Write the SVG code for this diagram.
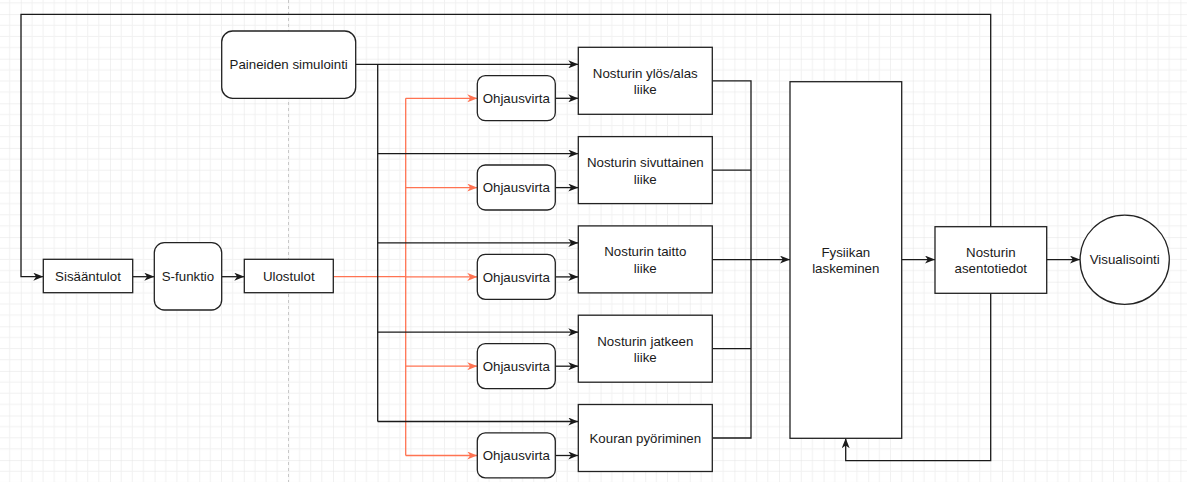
<svg xmlns="http://www.w3.org/2000/svg" width="1187" height="482" viewBox="0 0 1187 482">
  <defs>
    <pattern id="grid" patternUnits="userSpaceOnUse" x="20.8" y="14.1" width="44.6" height="44.6">
      <path d="M11.15 0V44.6M22.3 0V44.6M33.45 0V44.6M0 11.15H44.6M0 22.3H44.6M0 33.45H44.6" stroke="#f1f1f1" stroke-width="1" fill="none"/>
      <path d="M0 0V44.6M0 0H44.6" stroke="#e3e3e3" stroke-width="1" fill="none"/>
    </pattern>
    <marker id="arr" viewBox="0 0 10 8" refX="10" refY="4" markerWidth="10" markerHeight="8" markerUnits="userSpaceOnUse" orient="auto">
      <path d="M0 0L10 4L0 8L2.8 4Z" fill="#1a1a1a"/>
    </marker>
    <marker id="arrO" viewBox="0 0 10 8" refX="10" refY="4" markerWidth="10" markerHeight="8" markerUnits="userSpaceOnUse" orient="auto">
      <path d="M0 0L10 4L0 8L2.8 4Z" fill="#ff7352"/>
    </marker>
  </defs>
  <style>
    .box { fill: #ffffff; stroke: #222222; stroke-width: 1.3; }
    .t { font-family: "Liberation Sans", Arial, sans-serif; font-size: 13.3px; fill: #1a1a1a; text-anchor: middle; }
    .ln { fill: none; stroke: #1a1a1a; stroke-width: 1.3; }
    .la { fill: none; stroke: #1a1a1a; stroke-width: 1.3; marker-end: url(#arr); }
    .lo { fill: none; stroke: #ff7352; stroke-width: 1.3; }
    .loa { fill: none; stroke: #ff7352; stroke-width: 1.3; marker-end: url(#arrO); }
  </style>

  <!-- canvas grid and page break -->
  <rect x="0" y="0" width="1187" height="482" fill="#ffffff"/>
  <rect x="0" y="0" width="1187" height="482" fill="url(#grid)"/>
  <line x1="288.5" y1="0" x2="288.5" y2="482" stroke="#c8c8c8" stroke-width="1" stroke-dasharray="3 3"/>

  <!-- connectors -->
  <g id="connectors">
    <!-- feedback from position data back to inputs -->
    <path class="la" d="M990.7 226.7V14.3H21V276.7H43.3"/>
    <path class="la" d="M132.7 276.7H154.3"/>
    <path class="la" d="M221.7 276.7H244.3"/>

    <!-- control signal distribution -->
    <path class="lo" d="M333.3 276.7H405.7"/>
    <path class="lo" d="M405.7 98.3V455.5"/>
    <path class="loa" d="M405.7 98.3H477.3"/>
    <path class="loa" d="M405.7 187.6H477.3"/>
    <path class="loa" d="M405.7 276.9H477.3"/>
    <path class="loa" d="M405.7 366.2H477.3"/>
    <path class="loa" d="M405.7 455.5H477.3"/>

    <!-- pressure simulation distribution -->
    <path class="la" d="M355.7 64.3H578.3"/>
    <path class="ln" d="M377.7 64.3V421.5"/>
    <path class="la" d="M377.7 153.6H578.3"/>
    <path class="la" d="M377.7 242.9H578.3"/>
    <path class="la" d="M377.7 332.2H578.3"/>
    <path class="la" d="M377.7 421.5H578.3"/>

    <!-- control flow into motions -->
    <path class="la" d="M555.3 98.3H578.3"/>
    <path class="la" d="M555.3 187.6H578.3"/>
    <path class="la" d="M555.3 276.9H578.3"/>
    <path class="la" d="M555.3 366.2H578.3"/>
    <path class="la" d="M555.3 455.5H578.3"/>

    <!-- motions into physics -->
    <path class="ln" d="M712.3 80.8H751V438H712.3"/>
    <path class="ln" d="M712.3 170.1H751"/>
    <path class="ln" d="M712.3 348.7H751"/>
    <path class="la" d="M712.3 259.6H790"/>

    <!-- physics to position data and visualisation -->
    <path class="la" d="M901.7 259.6H935"/>
    <path class="la" d="M1046.7 259.6H1080"/>
    <path class="la" d="M990.7 293.3V460.7H845.7V438.3"/>
  </g>

  <!-- nodes -->
  <g id="paineiden">
    <rect class="box" x="221.7" y="31" width="134" height="67.3" rx="11"/>
    <text class="t" x="288.7" y="69.4">Paineiden simulointi</text>
  </g>
  <g id="sisaantulot">
    <rect class="box" x="43.3" y="259.3" width="89.4" height="33.4"/>
    <text class="t" x="88" y="281.4">Sisääntulot</text>
  </g>
  <g id="sfunktio">
    <rect class="box" x="154.3" y="242.7" width="67.4" height="67.3" rx="10"/>
    <text class="t" x="188" y="281.4">S-funktio</text>
  </g>
  <g id="ulostulot">
    <rect class="box" x="244.3" y="259.3" width="89" height="33.4"/>
    <text class="t" x="288.8" y="281.4">Ulostulot</text>
  </g>

  <g id="ohjaus1">
    <rect class="box" x="477.3" y="75.7" width="78" height="45" rx="8"/>
    <text class="t" x="516.3" y="103">Ohjausvirta</text>
  </g>
  <g id="ohjaus2">
    <rect class="box" x="477.3" y="165" width="78" height="45" rx="8"/>
    <text class="t" x="516.3" y="192.3">Ohjausvirta</text>
  </g>
  <g id="ohjaus3">
    <rect class="box" x="477.3" y="254.3" width="78" height="45" rx="8"/>
    <text class="t" x="516.3" y="281.6">Ohjausvirta</text>
  </g>
  <g id="ohjaus4">
    <rect class="box" x="477.3" y="343.6" width="78" height="45" rx="8"/>
    <text class="t" x="516.3" y="370.9">Ohjausvirta</text>
  </g>
  <g id="ohjaus5">
    <rect class="box" x="477.3" y="432.9" width="78" height="45" rx="8"/>
    <text class="t" x="516.3" y="460.2">Ohjausvirta</text>
  </g>

  <g id="ylosalas">
    <rect class="box" x="578.3" y="47.3" width="134" height="67"/>
    <text class="t" x="645.3" y="77.6">Nosturin ylös/alas</text>
    <text class="t" x="645.3" y="94.2">liike</text>
  </g>
  <g id="sivuttainen">
    <rect class="box" x="578.3" y="136.6" width="134" height="67"/>
    <text class="t" x="645.3" y="166.9">Nosturin sivuttainen</text>
    <text class="t" x="645.3" y="183.5">liike</text>
  </g>
  <g id="taitto">
    <rect class="box" x="578.3" y="225.9" width="134" height="67"/>
    <text class="t" x="645.3" y="256.2">Nosturin taitto</text>
    <text class="t" x="645.3" y="272.8">liike</text>
  </g>
  <g id="jatke">
    <rect class="box" x="578.3" y="315.2" width="134" height="67"/>
    <text class="t" x="645.3" y="345.5">Nosturin jatkeen</text>
    <text class="t" x="645.3" y="362.1">liike</text>
  </g>
  <g id="koura">
    <rect class="box" x="578.3" y="404.5" width="134" height="67"/>
    <text class="t" x="645.3" y="442.8">Kouran pyöriminen</text>
  </g>

  <g id="fysiikka">
    <rect class="box" x="790" y="81.7" width="111.7" height="356.6"/>
    <text class="t" x="845.8" y="256.6">Fysiikan</text>
    <text class="t" x="845.8" y="273.2">laskeminen</text>
  </g>
  <g id="asentotiedot">
    <rect class="box" x="935" y="226.7" width="111.7" height="66.6"/>
    <text class="t" x="990.8" y="256.6">Nosturin</text>
    <text class="t" x="990.8" y="273.2">asentotiedot</text>
  </g>
  <g id="visualisointi">
    <circle class="box" cx="1124.7" cy="259.7" r="44.6"/>
    <text class="t" x="1124.7" y="264.4">Visualisointi</text>
  </g>
</svg>
